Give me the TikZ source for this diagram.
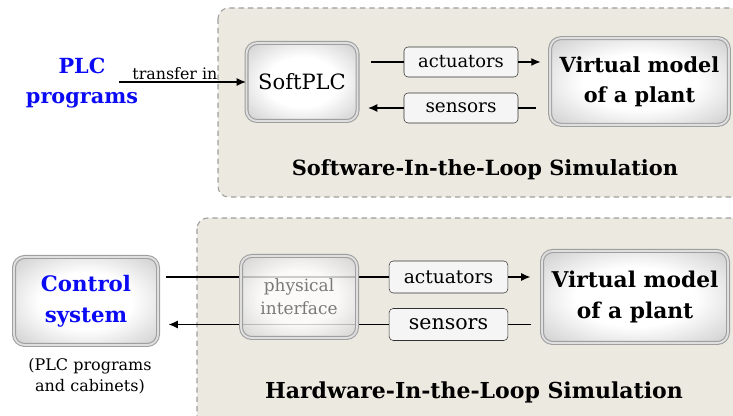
\documentclass[tikz,border=0pt]{standalone}
\usepackage{fontspec}
\setmainfont{DejaVu Serif}
\usepackage{tikz}
\usetikzlibrary{arrows.meta}
\definecolor{simbg}{RGB}{236,233,224}
\definecolor{plcblue}{RGB}{10,10,245}
\pgfdeclareradialshading{boxglow}{\pgfpoint{0bp}{0bp}}{color(0bp)=(white); color(16bp)=(white); color(36bp)=(gray!40); color(50bp)=(gray!75)}

\begin{document}
\begin{tikzpicture}[x=0.75pt,y=-0.75pt,
  simbox/.style={fill=simbg,draw=gray!75,dash pattern=on 4pt off 3pt,line width=0.8pt,rounded corners=8pt},
  shadebox/.style={draw=gray!75,double=gray!25,double distance=1.4pt,line width=0.8pt,rounded corners=8pt,
    shading=boxglow,align=center,inner sep=0pt},
  tagbox/.style={draw=gray!40!black,fill=gray!8,rounded corners=3pt,inner sep=0pt,
    minimum width=85.5pt,minimum height=22.5pt},
  flow/.style={-{Latex[length=7pt,width=6pt]},line width=1pt},
  wire/.style={line width=1pt},
  fs/.style={font=\fontsize{#1}{#1}\selectfont}]
\useasboundingbox (0,0) rectangle (733,416);
\clip (0,0) rectangle (733,416);
% Background areas
\draw[simbox] (218,8) rectangle (745,197);
\draw[simbox] (197,218) rectangle (745,430);
% Software-In-the-Loop
\node[align=center,text=plcblue,font=\fontsize{15.6}{23}\selectfont\bfseries] (plc) at (82,83) {PLC\\programs};
\node[shadebox,minimum width=83.25pt,minimum height=58.5pt,fs=15.8] (softplc) at (302,82) {SoftPLC};
\node[tagbox,fs=13.4] (act1) at (461,62) {actuators};
\node[tagbox,fs=13.8] (sens1) at (461,108) {sensors};
\node[shadebox,minimum width=134pt,minimum height=65pt,font=\fontsize{15.6}{22.5}\selectfont\bfseries] (virt1) at (639.5,81.5) {Virtual model\\of a plant};
\node[font=\fontsize{15.7}{18}\selectfont\bfseries] (siltitle) at (485,170) {Software-In-the-Loop Simulation};
\coordinate (tin) at (119,82);
\draw[flow] (tin) -- node[above,pos=0.44,inner sep=1.5pt,fs=11.9] {transfer in} (softplc.west);
\draw[wire] ([xshift=9.75pt]softplc.east |- act1.west) -- (act1.west);
\draw[flow] (act1.east) -- ([xshift=-6.75pt]virt1.west |- act1.east);
\draw[wire] ([xshift=-10.5pt]virt1.west |- sens1.east) -- (sens1.east);
\draw[flow] (sens1.west) -- ([xshift=7.5pt]softplc.east |- sens1.west);
% Hardware-In-the-Loop
\node[shadebox,minimum width=108pt,minimum height=66pt,text=plcblue,font=\fontsize{16}{23}\selectfont\bfseries] (ctrl) at (86,301) {Control\\system};
\node[align=center,font=\fontsize{12}{16}\selectfont] (ctrlnote) at (90,376) {(PLC programs\\and cabinets)};
\node[tagbox,minimum width=89pt,minimum height=24pt,fs=14] (act2) at (448.5,277) {actuators};
\node[tagbox,minimum width=89pt,minimum height=24pt,fs=15.4] (sens2) at (448.5,324.5) {sensors};
\node[shadebox,minimum width=139.5pt,minimum height=69pt,font=\fontsize{16.3}{23}\selectfont\bfseries] (virt2) at (635,297) {Virtual model\\of a plant};
\node[font=\fontsize{16.5}{18}\selectfont\bfseries] (hiltitle) at (474,392) {Hardware-In-the-Loop Simulation};
\draw[wire] ([xshift=5.25pt]ctrl.east |- act2.west) -- (act2.west);
\draw[flow] (act2.east) -- ([xshift=-8.25pt]virt2.west |- act2.east);
\draw[wire] ([xshift=-7.5pt]virt2.west |- sens2.east) -- (sens2.east);
\draw[flow] (sens2.west) -- ([xshift=7.5pt]ctrl.east |- sens2.west);
\node[shadebox,fill opacity=0.8,minimum width=87pt,minimum height=61.5pt,text=gray!70!black,
  font=\fontsize{12.7}{17}\selectfont] (phys) at (299,297) {physical\\interface};
\end{tikzpicture}
\end{document}
